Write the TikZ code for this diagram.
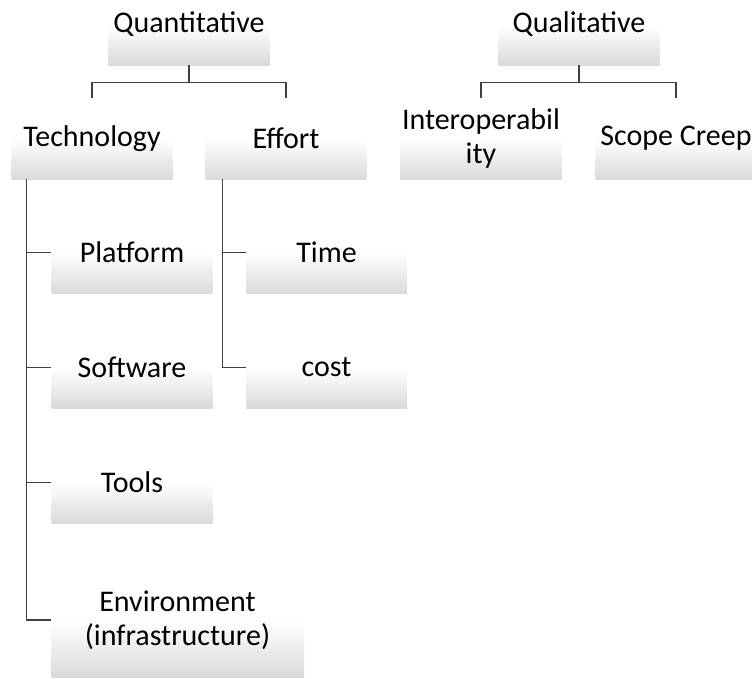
\documentclass[tikz,border=0pt]{standalone}
\usepackage{fontspec}
\setmainfont{Carlito}
\usetikzlibrary{calc}
\definecolor{boxgray}{HTML}{DADADA}
\definecolor{linegray}{HTML}{404040}
\tikzset{
    box/.style={minimum width=161pt, minimum height=81pt, inner sep=0pt, align=center,
        font=\fontsize{30}{34}\selectfont,
        path picture={\shade[top color=white, bottom color=boxgray, middle color=white]
            (path picture bounding box.north west) rectangle (path picture bounding box.south east);}},
    link/.style={draw=linegray, line width=1.2pt}
}

\begin{document}
\begin{tikzpicture}[x=1pt,y=-1pt]
\useasboundingbox (0,0) rectangle (752,678);
\node[box] (quant) at (189,24.5) {Quantitative};
\node[box] (qual) at (579,24.5) {Qualitative};
\node[box] (tech) at (92,138.5) {Technology};
\node[box] (effort) at (286,138.5) {Effort};
\node[box] (interop) at (481,138.5) {Interoperabil\\ity};
\node[box] (scope) at (676,138.5) {Scope Creep};
\foreach \p in {tech, effort}{
    \draw[link] (quant.south) -- ++(0,17) -| (\p.north);
}
\foreach \p in {interop, scope}{
    \draw[link] (qual.south) -- ++(0,17) -| (\p.north);
}
% under Technology
\foreach \y/\p/\labeltext in {252.5/plat/Platform, 367.5/soft/Software, 482.5/tools/Tools}{
    \node[box] (\p) at (132,\y) {\labeltext};
    \draw[link] ([xshift=15pt]tech.south west) |- (\p.west);
}
\node[box, minimum width=253pt, minimum height=114pt] (env) at (177.5,620) {Environment\\(infrastructure)};
\draw[link] ([xshift=15pt]tech.south west) |- (env.west);
% under Effort
\foreach \y/\p/\labeltext in {252.5/time/Time, 367.5/cost/cost}{
    \node[box] (\p) at (326.5,\y) {\labeltext};
    \draw[link] ([xshift=17pt]effort.south west) |- (\p.west);
}
\end{tikzpicture}
\end{document}
